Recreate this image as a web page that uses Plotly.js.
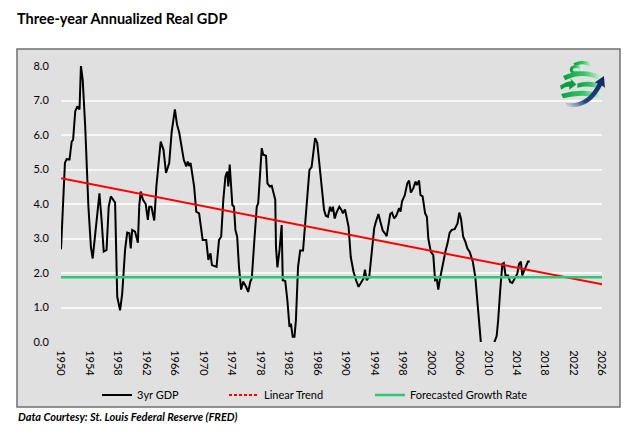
<!DOCTYPE html>
<html>
<head>
<meta charset="utf-8">
<script src="https://cdn.plot.ly/plotly-3.0.1.min.js"></script>
<style>html,body{margin:0;padding:0;background:#fff;}#chart{width:638px;height:431px;}</style>
</head>
<body>
<div id="chart"></div>
<script>
// 3-year annualized real GDP
const gdpYears = [
1950.0,1950.55,1950.8,1951.2,1951.5,1951.7,1952.0,1952.3,1952.6,1952.8,
1953.05,1953.4,1953.85,1954.2,1954.45,1954.9,1955.4,1955.7,1956.0,1956.4,
1956.7,1957.0,1957.6,1957.9,1958.3,1958.6,1959.0,1959.3,1959.6,1959.8,
1960.0,1960.4,1960.8,1961.0,1961.2,1961.5,1961.9,1962.2,1962.4,1962.7,
1963.1,1963.4,1963.7,1964.0,1964.4,1964.75,1965.2,1965.55,1966.0,1966.3,
1966.6,1967.0,1967.25,1967.6,1967.8,1968.0,1968.2,1968.7,1969.0,1969.4,
1969.9,1970.4,1970.7,1971.0,1971.2,1971.6,1971.85,1972.2,1972.5,1972.8,
1973.1,1973.35,1973.5,1973.7,1974.07,1974.3,1974.5,1974.75,1975.0,1975.3,
1975.6,1976.0,1976.3,1976.6,1976.8,1977.1,1977.5,1977.7,1977.95,1978.2,
1978.4,1978.8,1979.0,1979.3,1979.6,1980.1,1980.2,1980.4,1980.7,1981.0,
1981.15,1981.5,1981.8,1982.1,1982.3,1982.55,1982.8,1983.0,1983.3,1983.6,
1984.0,1984.3,1984.65,1984.9,1985.2,1985.7,1986.0,1986.4,1986.6,1986.95,
1987.2,1987.5,1987.8,1988.0,1988.2,1988.45,1988.7,1989.1,1989.4,1989.6,
1989.9,1990.4,1990.7,1991.1,1991.45,1991.8,1992.1,1992.5,1992.7,1992.95,
1993.3,1993.5,1993.75,1994.0,1994.2,1994.6,1994.9,1995.2,1995.5,1995.75,
1996.0,1996.25,1996.5,1996.8,1997.1,1997.5,1997.7,1997.9,1998.3,1998.65,
1998.9,1999.15,1999.5,1999.8,2000.0,2000.3,2000.5,2000.8,2001.15,2001.4,
2001.6,2001.95,2002.3,2002.55,2002.8,2003.0,2003.2,2003.6,2004.0,2004.3,
2004.6,2004.9,2005.3,2005.7,2005.95,2006.2,2006.5,2006.8,2007.1,2007.4,
2007.85,2008.2,2008.5,2008.75,2009.0,2009.5,2010.0,2010.5,2010.8,2011.2,
2011.4,2011.7,2012.0,2012.2,2012.45,2012.8,2013.1,2013.4,2013.75,2014.1,
2014.35,2014.6,2014.8,2015.15,2015.4,2015.6,2015.85
];
const gdpValues = [
2.69,5.19,5.30,5.29,5.81,5.86,6.69,6.83,6.74,8.00,
7.60,6.25,3.92,2.76,2.42,3.34,4.31,3.54,2.62,2.67,
3.92,4.22,4.04,1.31,0.92,1.41,2.67,3.17,3.15,2.71,
3.25,3.20,2.88,3.97,4.36,4.13,4.00,3.54,3.92,3.92,
3.52,4.51,5.19,5.81,5.57,4.90,5.19,6.10,6.74,6.30,
6.08,5.60,5.28,5.09,5.23,5.10,5.19,4.51,3.78,3.73,
2.96,2.96,2.38,2.57,2.23,2.20,2.18,2.96,3.05,4.12,
4.80,4.94,4.51,5.14,3.97,3.92,3.25,3.05,2.18,1.52,
1.75,1.60,1.45,1.75,1.84,2.76,3.92,4.02,4.70,5.62,
5.43,5.40,4.60,4.51,4.53,4.12,2.76,2.16,2.67,3.39,
1.79,1.77,1.21,0.44,0.53,0.15,0.15,0.63,2.18,2.65,
2.65,3.44,4.22,4.99,5.07,5.91,5.77,5.00,4.70,3.83,
3.66,3.63,3.92,3.78,3.92,3.58,3.75,3.92,3.83,3.73,
3.84,3.34,2.47,2.03,1.79,1.60,1.70,1.84,2.10,1.79,
1.89,2.27,2.91,3.30,3.46,3.71,3.46,3.23,3.15,3.07,
3.39,3.71,3.75,3.58,3.66,3.88,3.78,4.07,4.26,4.60,
4.68,4.33,4.46,4.65,4.55,4.68,4.26,4.22,3.73,3.63,
3.00,2.62,2.52,1.79,1.81,1.52,1.79,2.27,2.62,2.86,
3.17,3.25,3.27,3.44,3.75,3.56,3.05,2.91,2.71,2.62,
2.33,1.89,1.21,0.44,-0.05,-0.60,-0.80,-0.40,-0.05,0.17,
0.60,1.50,2.26,2.29,1.93,1.93,1.74,1.71,1.87,1.98,
2.26,2.33,1.93,2.13,2.26,2.33,2.33
];
const trendYears = [1950, 2026];
const trendValues = [4.75, 1.67];
const forecastYears = [1950, 2026];
const forecastValues = [1.88, 1.88];
const tickYears = [1950,1954,1958,1962,1966,1970,1974,1978,1982,1986,1990,1994,1998,2002,2006,2010,2014,2018,2022,2026];
const yTicks = [0,1,2,3,4,5,6,7,8];

const FONT = 'Lato, "Open Sans", sans-serif';

const logoSvg =
"<svg xmlns='http://www.w3.org/2000/svg' width='100' height='100' viewBox='0 0 50 50'>" +
"<defs>" +
"<linearGradient id='g' x1='0' x2='1' y1='0' y2='0'><stop offset='0' stop-color='#0a9e3e'/><stop offset='0.55' stop-color='#37c76a'/><stop offset='1' stop-color='#d6f5df'/></linearGradient>" +
"<linearGradient id='b' x1='0' x2='1' y1='1' y2='0'><stop offset='0' stop-color='#e4ebf5'/><stop offset='0.35' stop-color='#23427e'/><stop offset='1' stop-color='#0c2761'/></linearGradient>" +
"</defs>" +
"<path d='M16,5 Q25,0 34,5 L32,8 Q25,4 18,8 Z' fill='url(#g)'/>" +
"<ellipse cx='19' cy='11' rx='5' ry='3' fill='none' stroke='url(#g)' stroke-width='3'/>" +
"<path d='M6,17 Q25,8 44,17 L42,21 Q25,13 8,21 Z' fill='url(#g)'/>" +
"<path d='M3,26 Q10,22 14,22 L13,19 L19,25 L12,30 L12,27 Q8,27 4,30 Z' fill='#0a9e3e'/>" +
"<path d='M20,24 Q32,20 46,26 L45,30 Q32,25 20,28 Z' fill='url(#g)'/>" +
"<path d='M4,34 Q25,28 44,34 L42,38 Q25,33 6,38 Z' fill='url(#g)'/>" +
"<path d='M8,42 Q28,46 40,24 L37,23 L46,17 L47,28 L44,26 Q32,49 10,46 Z' fill='url(#b)'/>" +
"</svg>";
const logoSrc = 'data:image/svg+xml;charset=utf-8,' + encodeURIComponent(logoSvg);

// plot area in pixels: x 61..602, y 66..342
const L = 61, R = 602, T = 66, B = 342;
const W = R - L, H = B - T;
const px = x => (x - L) / W;
const py = y => (B - y) / H;

const traces = [
  {x: gdpYears, y: gdpValues, type: 'scatter', mode: 'lines', name: '3yr GDP',
   line: {color: '#000000', width: 2}, legend: 'legend', hoverinfo: 'skip'},
  {x: trendYears, y: trendValues, type: 'scatter', mode: 'lines', name: 'Linear Trend',
   line: {color: '#ff0000', width: 2}, showlegend: false, hoverinfo: 'skip'},
  {x: [null], y: [null], type: 'scatter', mode: 'lines', name: 'Linear Trend',
   line: {color: '#ff0000', width: 2, dash: '3px,2px'}, legend: 'legend2'},
  {x: forecastYears, y: forecastValues, type: 'scatter', mode: 'lines', name: 'Forecasted Growth Rate',
   line: {color: '#2ec77a', width: 2.5}, legend: 'legend3', hoverinfo: 'skip'}
];

const legendBase = {orientation: 'h', yref: 'paper', yanchor: 'middle', y: py(395),
  xanchor: 'left', bgcolor: 'rgba(0,0,0,0)', borderwidth: 0,
  font: {family: FONT, size: 11, color: '#000'}};

const layout = {
  width: 638, height: 431,
  margin: {l: L, r: 638 - R, t: T, b: 431 - B, pad: 0},
  paper_bgcolor: '#ffffff',
  plot_bgcolor: 'rgba(0,0,0,0)',
  title: {text: 'Three-year Annualized Real GDP', xref: 'container', yref: 'container',
    x: 17/638, xanchor: 'left', y: 1 - 19/431, yanchor: 'middle',
    font: {family: FONT, size: 14.5, color: '#000', weight: 'bold'}},
  xaxis: {range: [1950, 2026], tickmode: 'array', tickvals: tickYears, ticktext: tickYears.map(String),
    tickangle: 90, showgrid: false, zeroline: false, showline: false,
    ticks: 'outside', ticklen: 5, tickcolor: 'rgba(0,0,0,0)',
    tickfont: {family: FONT, size: 11, color: '#000'}, fixedrange: true},
  yaxis: {range: [0, 8], tickmode: 'array', tickvals: yTicks, tickformat: '.1f',
    showgrid: true, gridcolor: '#f7f7f7', gridwidth: 2, zeroline: false, showline: false,
    ticks: 'outside', ticklen: 9, tickcolor: 'rgba(0,0,0,0)',
    tickfont: {family: FONT, size: 11, color: '#000'}, fixedrange: true},
  showlegend: true,
  legend: Object.assign({}, legendBase, {x: px(97)}),
  legend2: Object.assign({}, legendBase, {x: px(224)}),
  legend3: Object.assign({}, legendBase, {x: px(370)}),
  shapes: [
    {type: 'rect', xref: 'paper', yref: 'paper', layer: 'below',
     x0: px(17), x1: px(620), y0: py(407), y1: py(49),
     fillcolor: '#e0e0e0', line: {color: '#707070', width: 1.5}}
  ],
  images: [
    {source: logoSrc, xref: 'paper', yref: 'paper', x: px(557), y: py(58),
     sizex: 51 / W, sizey: 53 / H, xanchor: 'left', yanchor: 'top', sizing: 'stretch', layer: 'above'}
  ],
  annotations: [
    {text: '<b><i>Data Courtesy: St. Louis Federal Reserve (FRED)</i></b>', xref: 'paper', yref: 'paper',
     x: px(16), y: py(416), xanchor: 'left', yanchor: 'middle', showarrow: false,
     font: {family: FONT, size: 11, color: '#000'}}
  ]
};

Plotly.newPlot('chart', traces, layout, {staticPlot: true, displayModeBar: false});
</script>
</body>
</html>
